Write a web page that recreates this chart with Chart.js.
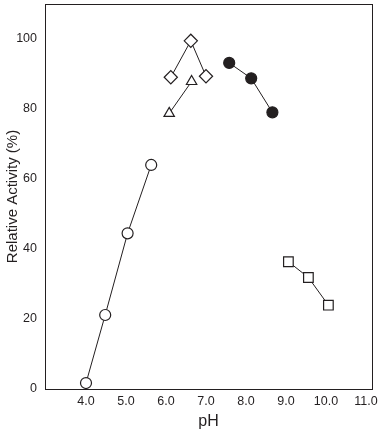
<!DOCTYPE html>
<html><head><meta charset="utf-8">
<script src="https://cdn.jsdelivr.net/npm/chart.js@4"></script>
<style>html,body{margin:0;padding:0;background:#fff}#wrap{width:384px;height:432px}</style>
</head><body><div id="wrap"><canvas id="c" width="384" height="432"></canvas></div>
<script>
const openCirclePH = [4.0, 4.48, 5.04, 5.63];
const openCircleAct = [1.7, 21.1, 44.4, 63.9];
const diamondPH = [6.12, 6.62, 7.0];
const diamondAct = [88.9, 99.3, 89.2];
const trianglePH = [6.08, 6.64];
const triangleAct = [78.6, 87.7];
const filledCirclePH = [7.58, 8.13, 8.66];
const filledCircleAct = [93.0, 88.6, 78.9];
const squarePH = [9.06, 9.56, 10.06];
const squareAct = [36.3, 31.8, 23.9];
const xTicks = [4, 5, 6, 7, 8, 9, 10, 11];
const yTicks = [0, 20, 40, 60, 80, 100];

const ink = '#231f20';
const pts = (xs, ys) => xs.map((x, i) => ({x, y: ys[i]}));
function ds(xs, ys, style, fill, r) {
  return {data: pts(xs, ys), showLine: true, borderColor: ink, borderWidth: 1,
    pointStyle: style, pointRadius: r, pointBackgroundColor: fill, pointBorderColor: ink,
    pointBorderWidth: 1.2, pointHoverRadius: r, clip: false};
}
const frame = {id: 'frame', beforeDatasetsDraw(chart) {
  const a = chart.chartArea, g = chart.ctx;
  g.save(); g.strokeStyle = ink; g.lineWidth = 1;
  g.strokeRect(Math.round(a.left) + 0.5, Math.round(a.top) + 0.5, Math.round(a.right - a.left), Math.round(a.bottom - a.top));
  g.restore();
}};
new Chart(document.getElementById('c'), {
  type: 'scatter',
  data: {datasets: [
    ds(openCirclePH, openCircleAct, 'circle', '#fff', 5.5),
    ds(diamondPH, diamondAct, 'rectRot', '#fff', 6.6),
    ds(trianglePH, triangleAct, 'triangle', '#fff', 6),
    ds(filledCirclePH, filledCircleAct, 'circle', ink, 5.5),
    ds(squarePH, squareAct, 'rect', '#fff', 6.8)
  ]},
  options: {
    responsive: false, animation: false, devicePixelRatio: 1,
    layout: {autoPadding: false, padding: {left: 0, right: 12, top: 4, bottom: 0}},
    plugins: {legend: {display: false}, tooltip: {enabled: false}},
    scales: {
      x: {type: 'linear', min: 2.975, max: 11.15,
        afterBuildTicks: s => { s.ticks = xTicks.map(v => ({value: v})); },
        afterFit: s => { s.height = 43; s.paddingLeft = 0; s.paddingRight = 0; },
        grid: {display: false, drawTicks: false}, border: {display: false},
        ticks: {color: ink, padding: 5, font: {family: 'Liberation Sans, Arial', size: 12.5},
          callback: v => v.toFixed(1)},
        title: {display: true, text: 'pH', color: ink, padding: {top: 0, bottom: 1},
          font: {family: 'Liberation Sans, Arial', size: 16}}},
      y: {type: 'linear', min: 0, max: 109.8,
        afterBuildTicks: s => { s.ticks = yTicks.map(v => ({value: v})); },
        afterFit: s => { s.width = 45; s.paddingTop = 0; s.paddingBottom = 0; },
        grid: {display: false, drawTicks: false}, border: {display: false},
        ticks: {color: ink, padding: 8, font: {family: 'Liberation Sans, Arial', size: 12.5}},
        title: {display: true, text: 'Relative Activity (%)', color: ink, padding: {top: 4, bottom: 0},
          font: {family: 'Liberation Sans, Arial', size: 15}}}
    }
  },
  plugins: [frame]
});
</script></body></html>
